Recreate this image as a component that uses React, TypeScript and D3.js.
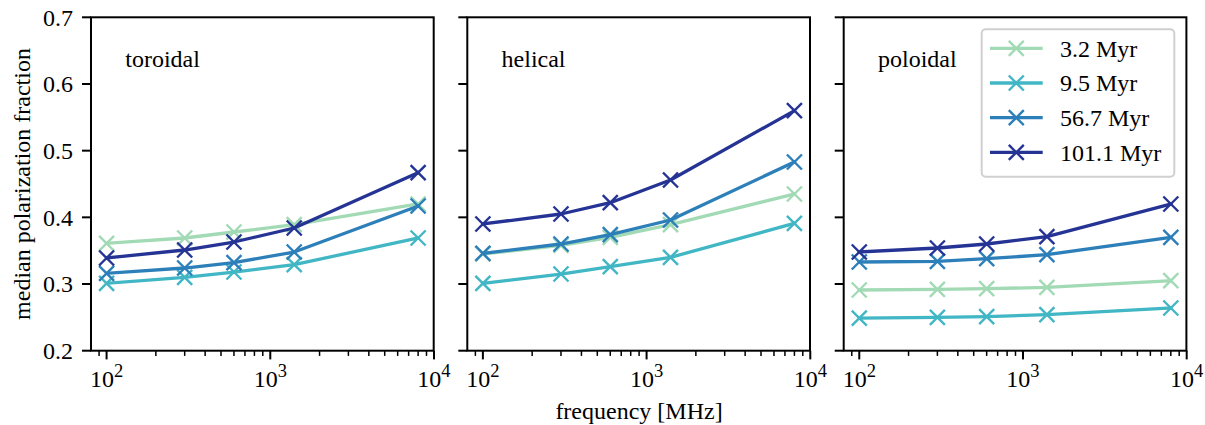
import React from "react";
import * as d3 from "d3";

const frequencies = [100, 300, 600, 1400, 8000];
const seriesLabels = ["3.2 Myr", "9.5 Myr", "56.7 Myr", "101.1 Myr"];
const seriesColors = ["#a1dab4", "#41b6c4", "#2c7fb8", "#253494"];
const panelTitles = ["toroidal", "helical", "poloidal"];

const toroidal = [
  [0.361, 0.369, 0.378, 0.389, 0.420],
  [0.301, 0.310, 0.318, 0.329, 0.369],
  [0.316, 0.324, 0.332, 0.348, 0.417],
  [0.339, 0.351, 0.363, 0.384, 0.467],
];
const helical = [
  [0.345, 0.358, 0.370, 0.389, 0.435],
  [0.301, 0.315, 0.326, 0.340, 0.391],
  [0.346, 0.360, 0.374, 0.396, 0.483],
  [0.390, 0.405, 0.422, 0.456, 0.560],
];
const poloidal = [
  [0.291, 0.292, 0.293, 0.295, 0.305],
  [0.249, 0.250, 0.251, 0.254, 0.264],
  [0.333, 0.334, 0.338, 0.344, 0.370],
  [0.348, 0.354, 0.360, 0.371, 0.420],
];
const panelData = [toroidal, helical, poloidal];

const yTicks = [0.2, 0.3, 0.4, 0.5, 0.6, 0.7];
const xMajorTicks = [100, 1000, 10000];
const xTickExponents = ["2", "3", "4"];

const W = 1205;
const H = 425;
const FONT = "'Liberation Serif', 'Times New Roman', serif";
const FS = 24;

const panelLefts = [91, 467.3, 843.7];
const panelW = 342.7;
const top = 17.3;
const bottom = 350.7;

function Marker({ x, y, color, r = 7.5, sw = 2.4 }: any) {
  return (
    <g stroke={color} strokeWidth={sw} strokeLinecap="butt">
      <line x1={x - r} y1={y - r} x2={x + r} y2={y + r} />
      <line x1={x - r} y1={y + r} x2={x + r} y2={y - r} />
    </g>
  );
}

export default function App() {
  const lmin = Math.log10(d3.min(frequencies)!);
  const lmax = Math.log10(d3.max(frequencies)!);
  const pad = (lmax - lmin) * 0.05;
  const xDomain = [Math.pow(10, lmin - pad), Math.pow(10, lmax + pad)];
  const y = d3.scaleLinear().domain([0.2, 0.7]).range([bottom, top]);

  const minorTicks: number[] = [];
  for (let e = 1; e <= 4; e++) {
    for (let m = 2; m <= 9; m++) {
      const v = m * Math.pow(10, e);
      if (v >= xDomain[0] && v <= xDomain[1]) minorTicks.push(v);
    }
  }

  return (
    <svg
      width={W}
      height={H}
      style={{ position: "absolute", left: 0, top: 0, background: "#fff" }}
      fontFamily={FONT}
    >
      <rect x={0} y={0} width={W} height={H} fill="#fff" />
      {panelData.map((data, pi) => {
        const x0 = panelLefts[pi];
        const x = d3.scaleLog().domain(xDomain).range([x0, x0 + panelW]);
        const line = d3
          .line<number>()
          .x((_, i) => x(frequencies[i]))
          .y((d) => y(d));
        return (
          <g key={pi}>
            {data.map((vals, si) => (
              <g key={si}>
                <path
                  d={line(vals) || ""}
                  fill="none"
                  stroke={seriesColors[si]}
                  strokeWidth={3.3}
                  strokeLinejoin="round"
                  strokeLinecap="square"
                />
                {vals.map((v, i) => (
                  <Marker key={i} x={x(frequencies[i])} y={y(v)} color={seriesColors[si]} />
                ))}
              </g>
            ))}
            <rect
              x={x0}
              y={top}
              width={panelW}
              height={bottom - top}
              fill="none"
              stroke="#000"
              strokeWidth={2}
            />
            {yTicks.map((t) => (
              <g key={t}>
                <line x1={x0 - 9} x2={x0} y1={y(t)} y2={y(t)} stroke="#000" strokeWidth={2} />
                {pi === 0 && (
                  <text
                    x={x0 - 18}
                    y={y(t)}
                    dy="0.35em"
                    textAnchor="end"
                    fontSize={FS}
                    fill="#000"
                  >
                    {t.toFixed(1)}
                  </text>
                )}
              </g>
            ))}
            {minorTicks.map((t) => (
              <line
                key={t}
                x1={x(t)}
                x2={x(t)}
                y1={bottom}
                y2={bottom + 5.2}
                stroke="#000"
                strokeWidth={1.5}
              />
            ))}
            {xMajorTicks.map((t, ti) => (
              <g key={t}>
                <line x1={x(t)} x2={x(t)} y1={bottom} y2={bottom + 8.7} stroke="#000" strokeWidth={2} />
                <text x={x(t)} y={386.7} textAnchor="middle" fontSize={FS} fill="#000">
                  10
                  <tspan fontSize={18.5} dy={-10}>
                    {xTickExponents[ti]}
                  </tspan>
                </text>
              </g>
            ))}
            <text x={x0 + panelW * 0.1} y={66.7} fontSize={FS} fill="#000">
              {panelTitles[pi]}
            </text>
          </g>
        );
      })}

      <rect
        x={981.7}
        y={29.3}
        width={192.6}
        height={147.4}
        rx={4}
        ry={4}
        fill="#fff"
        fillOpacity={0.8}
        stroke="#d0d0d0"
        strokeWidth={2}
      />
      {seriesLabels.map((lab, i) => {
        const cy = 48.3 + i * 34.7;
        return (
          <g key={lab}>
            <line x1={990} x2={1042.7} y1={cy} y2={cy} stroke={seriesColors[i]} strokeWidth={3.3} />
            <Marker x={1016.3} y={cy} color={seriesColors[i]} />
            <text x={1060} y={cy + 8.3} fontSize={FS} fill="#000">
              {lab}
            </text>
          </g>
        );
      })}

      <text x={639} y={419} textAnchor="middle" fontSize={FS} fill="#000">
        frequency [MHz]
      </text>
      <text
        transform={`translate(29.5, ${(top + bottom) / 2}) rotate(-90)`}
        textAnchor="middle"
        fontSize={FS}
        fill="#000"
      >
        median polarization fraction
      </text>
    </svg>
  );
}
